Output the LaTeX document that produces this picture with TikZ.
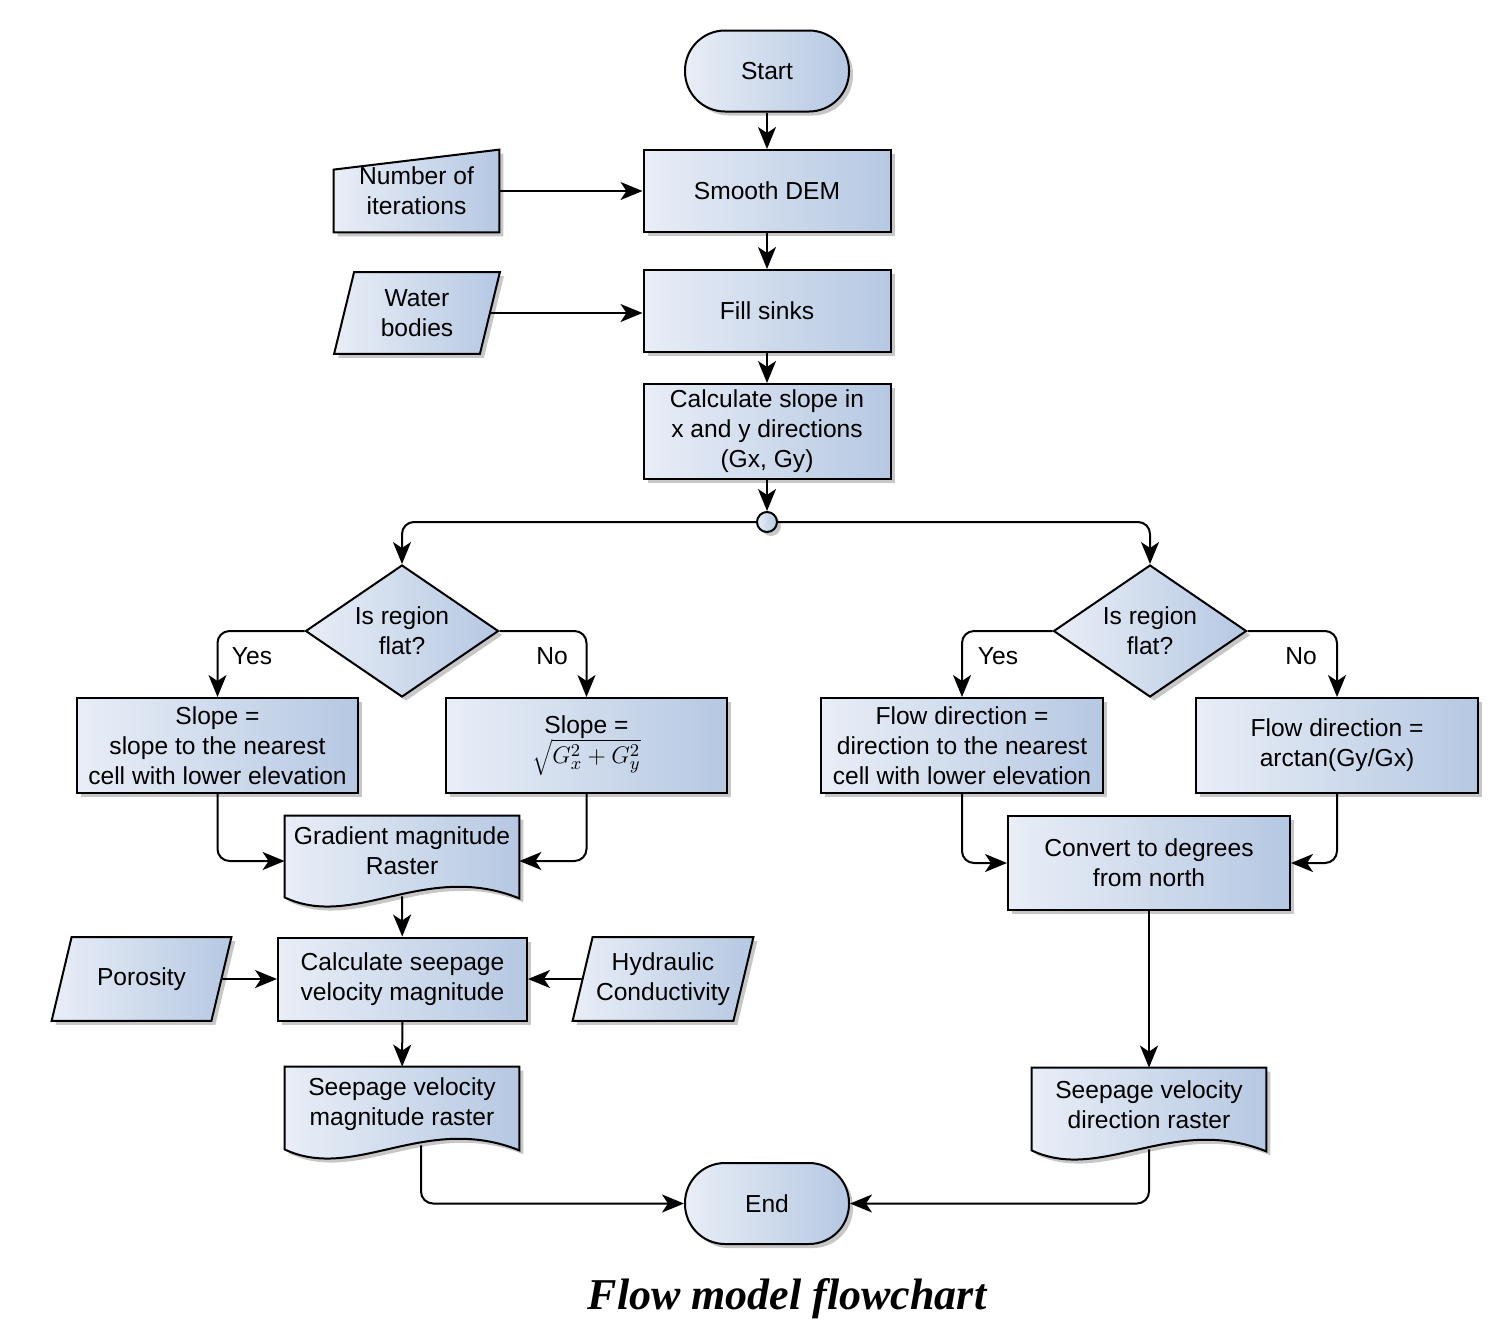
\documentclass[tikz,border=0pt]{standalone}
\usepackage{fontspec}
\setmainfont{Liberation Sans}
\newfontfamily\capfont{Liberation Serif}
\usetikzlibrary{shapes.geometric,shadows,arrows.meta,calc,backgrounds}
\definecolor{cA}{HTML}{E9EEF7}
\definecolor{cB}{HTML}{B5C8E2}
\begin{document}
\begin{tikzpicture}[x=0.5pt,y=-0.5pt,
  font=\fontsize{12.3}{15}\selectfont,
  fillsh/.style={draw=black, line width=1pt, left color=cA, right color=cB,
    drop shadow={shadow xshift=2pt,shadow yshift=-2pt,fill=black,opacity=0.22}},
  proc/.style={fillsh, rectangle, align=center, inner sep=2pt},
  term/.style={fillsh, rectangle, rounded corners=20pt, minimum width=82pt, minimum height=40.5pt, align=center},
  decis/.style={fillsh, diamond, aspect=1.46, minimum width=96.5pt, minimum height=66pt, inner sep=0pt, align=center},
  txt/.style={rectangle, align=center, inner sep=0pt},
  conn/.style={draw, line width=1pt, rounded corners=6pt, -{Stealth[length=11pt,width=9pt,inset=3pt]}},
  lbl/.style={inner sep=0pt}
]
\useasboundingbox (0,0) rectangle (1509,1334);

% terminals and processes
\node[term] (start) at (767,71) {Start};
\node[proc, minimum width=123.5pt, minimum height=41pt] (smooth) at (767,191) {Smooth DEM};
\node[proc, minimum width=123.5pt, minimum height=41pt] (fill) at (767,311) {Fill sinks};
\node[proc, minimum width=123.5pt, minimum height=47.5pt] (slope) at (767,431.5) {Calculate slope in\\x and y directions\\(Gx, Gy)};
\node[fillsh, circle, minimum size=10pt, inner sep=0pt] (junc) at (767,522) {};

\node[decis] (dl) at (402,631) {Is region\\flat?};
\node[decis] (dr) at (1150,631) {Is region\\flat?};

\node[proc, minimum width=140.5pt, minimum height=47.5pt] (sl1) at (217.5,745.5) {Slope =\\slope to the nearest\\cell with lower elevation};
\node[proc, minimum width=140.5pt, minimum height=47.5pt] (sl2) at (586.5,745.5) {Slope =\\$\sqrt{G_x^2+G_y^2}$};
\node[proc, minimum width=141pt, minimum height=47.5pt] (fd1) at (962,745.5) {Flow direction =\\direction to the nearest\\cell with lower elevation};
\node[proc, minimum width=141pt, minimum height=47.5pt] (fd2) at (1337,745.5) {Flow direction =\\arctan(Gy/Gx)};

\node[proc, minimum width=141pt, minimum height=47pt] (conv) at (1149,863) {Convert to degrees\\from north};
\node[proc, minimum width=124.5pt, minimum height=41.5pt] (calcs) at (402.5,979) {Calculate seepage\\velocity magnitude};

\node[term] (end) at (767,1203.5) {End};

% text nodes of custom shapes
\node[txt, minimum width=82.5pt, minimum height=41pt] (iter) at (416.5,191) {Number of\\iterations};
\node[txt, minimum width=72.5pt, minimum height=40.5pt] (water) at (417,313) {Water\\bodies};
\node[txt, minimum width=79.5pt, minimum height=41.5pt] (poro) at (141.5,979) {Porosity};
\node[txt, minimum width=80pt, minimum height=41.5pt] (hyd) at (663,979) {Hydraulic\\Conductivity};
\node[txt, minimum width=117pt, minimum height=35pt] (grad) at (402,851) {Gradient magnitude\\Raster};
\node[txt, minimum width=117pt, minimum height=37pt] (mag) at (402,1104) {Seepage velocity\\magnitude raster};
\node[txt, minimum width=117pt, minimum height=37pt] (dir) at (1149,1105) {Seepage velocity\\direction raster};

\begin{scope}[on background layer]
  \path[fillsh] (iter.south west) -- (iter.south east) -- (iter.north east) -- ($(iter.north west)+(0,20)$) -- cycle;
  \foreach \n in {water,poro,hyd}{
    \path[fillsh] ($(\n.north west)+(10,0)$) -- ($(\n.north east)+(10,0)$) -- ($(\n.south east)+(-10,0)$) -- ($(\n.south west)+(-10,0)$) -- cycle;
  }
  \path[fillsh] (grad.north west) -- (grad.north east) -- ($(grad.south east)+(0,12)$)
     .. controls +(-94,-38) and +(70,33) .. ($(grad.south west)+(0,11)$) -- cycle;
  \path[fillsh] (mag.north west) -- (mag.north east) -- ($(mag.south east)+(0,9)$)
     .. controls +(-94,-38) and +(70,33) .. ($(mag.south west)+(0,8)$) -- cycle;
  \path[fillsh] (dir.north west) -- (dir.north east) -- ($(dir.south east)+(0,9)$)
     .. controls +(-94,-38) and +(70,33) .. ($(dir.south west)+(0,8)$) -- cycle;
\end{scope}

% connectors
\draw[conn] (start) -- (smooth);
\draw[conn] (smooth) -- (fill);
\draw[conn] (fill) -- (slope);
\draw[conn] (iter.east) -- (smooth.west);
\draw[conn] (water.east) -- (water.east -| fill.west);
\draw[conn] (slope) -- (junc);
\draw[conn] (junc.west) -| (dl.north);
\draw[conn] (junc.east) -| (dr.north);
\draw[conn] (dl.west) -| (sl1.north);
\draw[conn] (dl.east) -| (sl2.north);
\draw[conn] (dr.west) -| (fd1.north);
\draw[conn] (dr.east) -| (fd2.north);
\node[lbl] (yes1) at (252,656) {Yes};
\node[lbl] (no1) at (552,656) {No};
\node[lbl] (yes2) at (998,656) {Yes};
\node[lbl] (no2) at (1301,656) {No};
\draw[conn] (sl1.south) |- ([yshift=-5pt]grad.west);
\draw[conn] (sl2.south) |- ([yshift=-5pt]grad.east);
\draw[conn] ($(grad.south)+(0,10)$) -- (calcs);
\draw[conn] (poro.east) -- (calcs.west);
\draw[conn] (hyd.west) -- (calcs.east);
\draw[conn] (calcs) -- (mag);
\draw[conn] ($(mag.south)+(19,4)$) |- (end.west);
\draw[conn] (fd1.south) |- (conv.west);
\draw[conn] (fd2.south) |- (conv.east);
\draw[conn] (conv) -- (dir);
\draw[conn] ($(dir.south)+(0,7)$) |- (end.east);

\node (cap) at (787,1299) {\capfont\bfseries\itshape\fontsize{22}{26}\selectfont Flow model flowchart};
\end{tikzpicture}
\end{document}
